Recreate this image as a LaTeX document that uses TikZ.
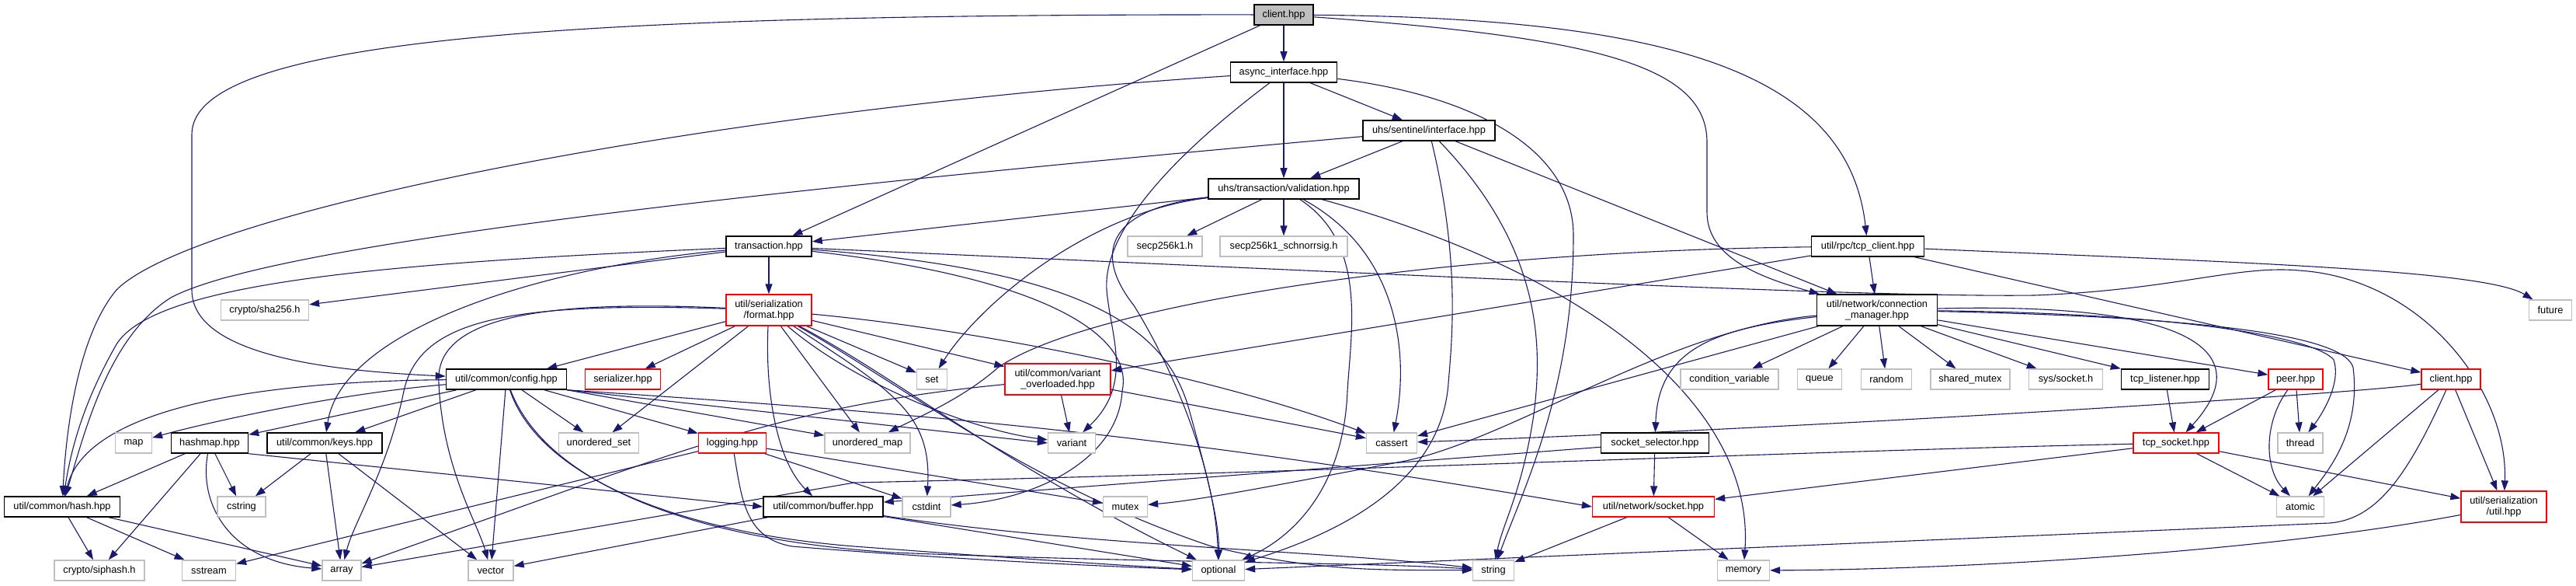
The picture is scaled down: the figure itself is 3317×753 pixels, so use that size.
\documentclass[tikz,border=0pt]{standalone}
\usepackage{fontspec}
\setmainfont{Liberation Sans}
\usetikzlibrary{arrows.meta,backgrounds}
\definecolor{edgecol}{RGB}{25,25,112}
\definecolor{graybd}{RGB}{191,191,191}
\definecolor{redbd}{RGB}{255,0,0}
\newcommand\nodefont{\fontsize{12.8pt}{14.5pt}\selectfont}
\tikzset{
 nd/.style={rectangle, inner sep=0pt, minimum height=26pt, font=\nodefont, align=center, line width=1.3pt, fill=white, text=black},
 blk/.style={nd, draw=black, line width=1.5pt},
 sys/.style={nd, draw=graybd},
 rd/.style={nd, draw=redbd},
 rt/.style={nd, draw=black, line width=1.5pt, fill=graybd},
 two/.style={minimum height=40pt},
 wd/.style={minimum width=#1pt},
 e/.style={draw=edgecol, line width=1.1pt, -{Triangle[length=13pt,width=9pt]}},
}
\begin{document}
\begin{tikzpicture}[x=1pt,y=1pt]
\useasboundingbox (0,0) rectangle (3317,753);
% nodes
\node[rt,wd=76] (root) at (1653,734) {client.hpp};
\node[blk,wd=137] (async) at (1653,660) {async\_interface.hpp};
\node[blk,wd=170] (sentinel) at (1840,585) {uhs/sentinel/interface.hpp};
\node[blk,wd=194] (valid) at (1653,510) {uhs/transaction/validation.hpp};
\node[blk,wd=110] (trans) at (990,436) {transaction.hpp};
\node[sys,wd=96] (secp) at (1500,436) {secp256k1.h};
\node[sys,wd=164] (schnorr) at (1653,436) {secp256k1\_schnorrsig.h};
\node[blk,wd=145] (tcpclient) at (2405,436) {util/rpc/tcp\_client.hpp};
\node[rd,two,wd=110] (format) at (990,354) {util/serialization\\/format.hpp};
\node[sys,wd=113] (sha) at (341,354) {crypto/sha256.h};
\node[blk,two,wd=155] (cm) at (2417,354) {util/network/connection\\\_manager.hpp};
\node[sys,wd=55] (future) at (3284,354) {future};
\node[blk,wd=155] (config) at (652,265) {util/common/config.hpp};
\node[rd,wd=97] (serializer) at (802,265) {serializer.hpp};
\node[sys,wd=39] (set) at (1200,265) {set};
\node[rd,two,wd=136] (overl) at (1362,265) {util/common/variant\\\_overloaded.hpp};
\node[sys,wd=126] (condvar) at (2227,265) {condition\_variable};
\node[sys,wd=57] (queue) at (2343,265) {queue};
\node[sys,wd=65] (random) at (2429,265) {random};
\node[sys,wd=102] (shmutex) at (2537,265) {shared\_mutex};
\node[sys,wd=95] (syssock) at (2660,265) {sys/socket.h};
\node[blk,wd=113] (tcplist) at (2788,265) {tcp\_listener.hpp};
\node[rd,wd=70] (peer) at (2956,265) {peer.hpp};
\node[rd,wd=76] (rclient) at (3156,265) {client.hpp};
\node[sys,wd=47] (map) at (172,183) {map};
\node[blk,wd=99] (hashmap) at (270,183) {hashmap.hpp};
\node[blk,wd=148] (keys) at (418,183) {util/common/keys.hpp};
\node[sys,wd=103] (uset) at (771,183) {unordered\_set};
\node[rd,wd=87] (logging) at (943,183) {logging.hpp};
\node[sys,wd=110] (umap) at (1117,183) {unordered\_map};
\node[sys,wd=61] (variant) at (1380,183) {variant};
\node[sys,wd=65] (cassert) at (1792,183) {cassert};
\node[blk,wd=139] (sockselector) at (2131,183) {socket\_selector.hpp};
\node[rd,wd=110] (tcpsock) at (2802,183) {tcp\_socket.hpp};
\node[sys,wd=58] (thread) at (2962,183) {thread};
\node[blk,wd=149] (hash) at (80,101) {util/common/hash.hpp};
\node[sys,wd=62] (cstring) at (311,101) {cstring};
\node[blk,wd=154] (buffer) at (1060,101) {util/common/buffer.hpp};
\node[sys,wd=62] (cstdint) at (1193,101) {cstdint};
\node[sys,wd=57] (mutex) at (1449,101) {mutex};
\node[rd,wd=157] (socket) at (2129,101) {util/network/socket.hpp};
\node[sys,wd=61] (atomic) at (2962,101) {atomic};
\node[rd,two,wd=110] (utilh) at (3224,101) {util/serialization\\/util.hpp};
\node[sys,wd=116] (siphash) at (128,19) {crypto/siphash.h};
\node[sys,wd=69] (sstream) at (269,19) {sstream};
\node[sys,wd=50] (array) at (440,19) {array};
\node[sys,wd=58] (vector) at (632,19) {vector};
\node[sys,wd=67] (optional) at (1569,19) {optional};
\node[sys,wd=53] (string) at (1923,19) {string};
\node[sys,wd=67] (memory) at (2245,19) {memory};
\begin{pgfonlayer}{background}
\fill[white] (0,0) rectangle (3317,753);
% root
\draw[e] (root) -- (async);
\draw[e] (root) -- (trans);
\draw[e] (root) .. controls (700,735) and (247,700) .. (247,580) -- (247,380) .. controls (247,290) and (450,275) .. (config);
\draw[e] (root) .. controls (2150,730) and (2380,660) .. (tcpclient);
\draw[e] (root) .. controls (2050,705) and (2198,670) .. (2198,570) -- (2198,480) .. controls (2198,420) and (2270,395) .. (cm);
% async
\draw[e] (async) -- (sentinel);
\draw[e] (async) -- (valid);
\draw[e] (async) .. controls (900,610) and (250,480) .. (150,380) .. controls (100,320) and (85,200) .. (hash);
\draw[e] (async) .. controls (1520,560) and (1420,460) .. (1425,380) .. controls (1430,320) and (1460,260) .. (variant);
\draw[e] (async) .. controls (1900,630) and (2026,560) .. (2026,450) .. controls (2026,250) and (1960,120) .. (string);
% sentinel
\draw[e] (sentinel) -- (valid);
\draw[e] (sentinel) .. controls (1000,510) and (350,440) .. (220,370) .. controls (140,320) and (110,200) .. (hash);
\draw[e] (sentinel) -- (cm);
\draw[e] (sentinel) .. controls (1880,420) and (1870,320) .. (1865,260) .. controls (1855,120) and (1700,60) .. (optional);
\draw[e] (sentinel) .. controls (1990,430) and (1985,300) .. (1975,220) .. controls (1960,120) and (1935,80) .. (string);
% validation
\draw[e] (valid) -- (trans);
\draw[e] (valid) -- (secp);
\draw[e] (valid) -- (schnorr);
\draw[e] (valid) .. controls (1400,480) and (1260,360) .. (set);
\draw[e] (valid) .. controls (1430,485) and (1405,430) .. (1460,360) .. controls (1510,280) and (1565,150) .. (optional);
\draw[e] (valid) .. controls (1800,430) and (1815,300) .. (cassert);
\draw[e] (valid) .. controls (1760,440) and (1740,330) .. (1735,250) .. controls (1730,120) and (1660,60) .. (optional);
\draw[e] (valid) .. controls (2050,400) and (2260,230) .. (memory);
% transaction
\draw[e] (trans) -- (format);
\draw[e] (trans) -- (sha);
\draw[e] (trans) .. controls (700,410) and (440,330) .. (keys);
\draw[e] (trans) .. controls (500,415) and (200,390) .. (150,310) .. controls (110,240) and (92,180) .. (hash);
\draw[e] (trans) .. controls (1800,400) and (2400,370) .. (2620,373) .. controls (2800,380) and (2880,412) .. (2960,405) .. controls (3120,395) and (3230,250) .. (utilh);
\draw[e] (trans) .. controls (1350,395) and (1460,320) .. (1445,250) .. controls (1440,160) and (1330,110) .. (cstdint);
\draw[e] (trans) .. controls (1400,405) and (1500,330) .. (1530,230) .. controls (1555,140) and (1570,80) .. (optional);
% tcp_client
\draw[e] (tcpclient) -- (cm);
\draw[e] (tcpclient) .. controls (2900,415) and (3200,405) .. (future);
\draw[e] (tcpclient) -- (rclient);
\draw[e] (tcpclient) .. controls (1850,430) and (1400,360) .. (1285,280) .. controls (1240,240) and (1180,215) .. (umap);
\draw[e] (tcpclient) -- (overl);
% format
\draw[e] (format) -- (config);
\draw[e] (format) -- (serializer);
\draw[e] (format) -- (uset);
\draw[e] (format) -- (umap);
\draw[e] (format) -- (set);
\draw[e] (format) -- (overl);
\draw[e] (format) .. controls (1100,260) and (1250,200) .. (variant);
\draw[e] (format) .. controls (1250,330) and (1560,270) .. (cassert);
\draw[e] (format) .. controls (985,250) and (1000,160) .. (buffer);
\draw[e] (format) .. controls (1150,250) and (1200,220) .. (cstdint);
\draw[e] (format) .. controls (1150,270) and (1300,150) .. (optional);
\draw[e] (format) .. controls (1160,260) and (1320,130) .. (1560,50) .. controls (1700,15) and (1800,20) .. (string);
\draw[e] (format) .. controls (650,365) and (540,340) .. (520,250) .. controls (500,150) and (455,80) .. (array);
\draw[e] (format) .. controls (650,370) and (560,330) .. (565,260) .. controls (570,150) and (615,80) .. (vector);
% config
\draw[e] (config) .. controls (420,245) and (250,205) .. (map);
\draw[e] (config) -- (hashmap);
\draw[e] (config) -- (keys);
\draw[e] (config) .. controls (300,262) and (110,220) .. (hash);
\draw[e] (config) -- (uset);
\draw[e] (config) -- (logging);
\draw[e] (config) -- (umap);
\draw[e] (config.south east) -- (variant.west);
\draw[e] (config) -- (vector);
\draw[e] (config) .. controls (690,150) and (850,70) .. (1100,50) .. controls (1300,35) and (1450,25) .. (optional);
\draw[e] (config) .. controls (700,140) and (870,60) .. (1150,42) .. controls (1500,28) and (1750,30) .. (string);
\draw[e] (config.south east) .. controls (1200,220) and (1500,195) .. (socket.west);
% variant_overloaded
\draw[e] (overl) -- (variant);
\draw[e] (overl) -- (cassert);
\draw[e] (overl) .. controls (1000,230) and (870,170) .. (array);
% connection_manager
\draw[e] (cm) -- (condvar);
\draw[e] (cm) -- (queue);
\draw[e] (cm) -- (random);
\draw[e] (cm) -- (shmutex);
\draw[e] (cm) -- (syssock);
\draw[e] (cm) -- (tcplist);
\draw[e] (cm) -- (peer);
\draw[e] (cm) .. controls (2850,365) and (2900,290) .. (tcpsock);
\draw[e] (cm) .. controls (2800,350) and (2980,320) .. (3005,290) .. controls (3015,260) and (2990,220) .. (thread);
\draw[e] (cm) .. controls (2850,345) and (3020,320) .. (3030,280) .. controls (3040,200) and (3000,150) .. (atomic);
\draw[e] (cm) -- (cassert);
\draw[e] (cm) .. controls (2200,330) and (2135,300) .. (sockselector);
\draw[e] (cm) .. controls (2150,330) and (1950,190) .. (1810,160) .. controls (1650,130) and (1550,110) .. (mutex);
% hashmap
\draw[e] (hashmap) -- (hash);
\draw[e] (hashmap) -- (siphash);
\draw[e] (hashmap) -- (cstring);
\draw[e] (hashmap) .. controls (255,100) and (300,30) .. (array);
\draw[e] (hashmap.south east) -- (buffer.west);
% keys
\draw[e] (keys) -- (cstring);
\draw[e] (keys) -- (array);
\draw[e] (keys) -- (vector);
% hash
\draw[e] (hash) -- (siphash);
\draw[e] (hash) -- (sstream);
\draw[e] (hash) -- (array);
% logging
\draw[e] (logging) -- (sstream);
\draw[e] (logging) -- (mutex);
\draw[e] (logging) -- (cstdint);
\draw[e] (logging) .. controls (955,110) and (960,60) .. (1020,50) .. controls (1200,35) and (1400,25) .. (optional);
% buffer
\draw[e] (buffer) -- (vector);
\draw[e] (buffer) -- (optional);
\draw[e] (buffer) .. controls (1400,50) and (1700,45) .. (string);
% socket_selector
\draw[e] (sockselector) -- (buffer);
\draw[e] (sockselector) -- (socket);
% tcp_listener, peer
\draw[e] (tcplist) -- (tcpsock);
\draw[e] (peer) -- (tcpsock);
\draw[e] (peer) -- (thread);
\draw[e] (peer) .. controls (2915,210) and (2915,150) .. (atomic);
% rpc client
\draw[e] (rclient) .. controls (3050,248) and (2400,205) .. (cassert);
\draw[e] (rclient) -- (atomic);
\draw[e] (rclient) -- (utilh);
\draw[e] (rclient) .. controls (3100,140) and (3060,85) .. (3000,80) -- (2200,46) -- (optional);
% tcp_socket
\draw[e] (tcpsock) -- (socket);
\draw[e] (tcpsock) -- (atomic);
\draw[e] (tcpsock) -- (utilh);
\draw[e] (tcpsock) .. controls (2300,172) and (1700,145) .. (1100,132) -- (array);
% socket, util
\draw[e] (socket) -- (string);
\draw[e] (socket) -- (memory);
\draw[e] (utilh) .. controls (2900,40) and (2500,20) .. (memory);
\end{pgfonlayer}
\end{tikzpicture}
\end{document}
